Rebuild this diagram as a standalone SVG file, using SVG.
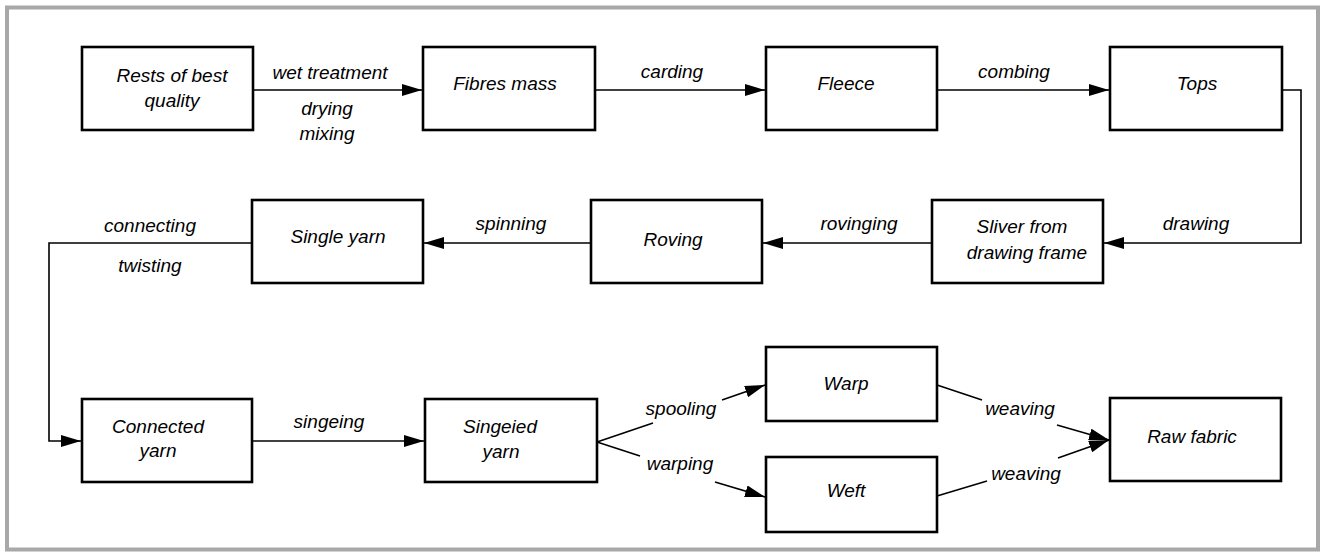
<svg xmlns="http://www.w3.org/2000/svg" width="1326" height="554" viewBox="0 0 1326 554">
<style>
.box{fill:#fff;stroke:#000;stroke-width:2.6}
.ln{fill:none;stroke:#000;stroke-width:1.6}
text{font-family:"Liberation Sans",Arial,sans-serif;font-style:italic;font-size:19px;fill:#000;text-anchor:middle}
</style>
<defs>
<marker id="ah" markerUnits="userSpaceOnUse" markerWidth="20" markerHeight="12" refX="20" refY="6" orient="auto">
<path d="M0,0 L20,6 L0,12 z" fill="#000"/>
</marker>
</defs>
<rect x="0" y="0" width="1326" height="554" fill="#fff"/>
<rect x="7" y="7.5" width="1311" height="542" fill="#fff" stroke="#a8a8a8" stroke-width="4"/>
<g id="connectors">
<line class="ln" x1="253" y1="90" x2="422" y2="90" marker-end="url(#ah)"/>
<line class="ln" x1="595" y1="90" x2="765" y2="90" marker-end="url(#ah)"/>
<line class="ln" x1="937" y1="90" x2="1109" y2="90" marker-end="url(#ah)"/>
<polyline class="ln" points="1282,90 1301,90 1301,243 1104,243" marker-end="url(#ah)"/>
<line class="ln" x1="932" y1="243" x2="763" y2="243" marker-end="url(#ah)"/>
<line class="ln" x1="591" y1="243" x2="424" y2="243" marker-end="url(#ah)"/>
<polyline class="ln" points="252,243 49,243 49,441 81,441" marker-end="url(#ah)"/>
<line class="ln" x1="252" y1="441" x2="424" y2="441" marker-end="url(#ah)"/>
<line class="ln" x1="597" y1="442" x2="653" y2="423"/>
<line class="ln" x1="722" y1="400" x2="765" y2="385" marker-end="url(#ah)"/>
<line class="ln" x1="597" y1="442" x2="640" y2="456"/>
<line class="ln" x1="715" y1="482" x2="765" y2="497" marker-end="url(#ah)"/>
<line class="ln" x1="937" y1="385" x2="982" y2="400"/>
<line class="ln" x1="1057" y1="425" x2="1109" y2="440" marker-end="url(#ah)"/>
<line class="ln" x1="937" y1="496" x2="987" y2="481"/>
<line class="ln" x1="1058" y1="458" x2="1109" y2="440" marker-end="url(#ah)"/>
</g>
<g id="labels">
<text x="330" y="79">wet treatment</text>
<text x="327" y="115">drying</text>
<text x="327" y="140">mixing</text>
<text x="672" y="78">carding</text>
<text x="1014" y="78">combing</text>
<text x="1196" y="230">drawing</text>
<text x="859" y="230">rovinging</text>
<text x="511" y="230">spinning</text>
<text x="150" y="232">connecting</text>
<text x="150" y="272">twisting</text>
<text x="329" y="428">singeing</text>
<text x="681" y="415">spooling</text>
<text x="680" y="470">warping</text>
<text x="1020" y="415">weaving</text>
<text x="1026" y="480">weaving</text>
</g>
<g id="rests"><rect class="box" x="82" y="47" width="171" height="83"/><text x="172" y="82">Rests of best</text><text x="172" y="107">quality</text></g>
<g id="fibres"><rect class="box" x="423" y="47" width="172" height="83"/><text x="505" y="90">Fibres mass</text></g>
<g id="fleece"><rect class="box" x="766" y="47" width="171" height="83"/><text x="846" y="90">Fleece</text></g>
<g id="tops"><rect class="box" x="1110" y="47" width="172" height="83"/><text x="1197" y="90">Tops</text></g>
<g id="sliver"><rect class="box" x="932" y="200" width="171" height="83"/><text x="1022" y="233">Sliver from</text><text x="1027" y="259">drawing frame</text></g>
<g id="roving"><rect class="box" x="591" y="200" width="171" height="83"/><text x="673" y="246">Roving</text></g>
<g id="single"><rect class="box" x="252" y="200" width="171" height="83"/><text x="338" y="243">Single yarn</text></g>
<g id="connected"><rect class="box" x="82" y="399" width="170" height="83"/><text x="158" y="433">Connected</text><text x="158" y="457">yarn</text></g>
<g id="singeied"><rect class="box" x="425" y="399" width="172" height="83"/><text x="500" y="433">Singeied</text><text x="501" y="458">yarn</text></g>
<g id="warp"><rect class="box" x="766" y="347" width="171" height="74"/><text x="846" y="390">Warp</text></g>
<g id="weft"><rect class="box" x="766" y="457" width="171" height="75"/><text x="846" y="497">Weft</text></g>
<g id="raw"><rect class="box" x="1110" y="398" width="171" height="83"/><text x="1192" y="443">Raw fabric</text></g>
</svg>
